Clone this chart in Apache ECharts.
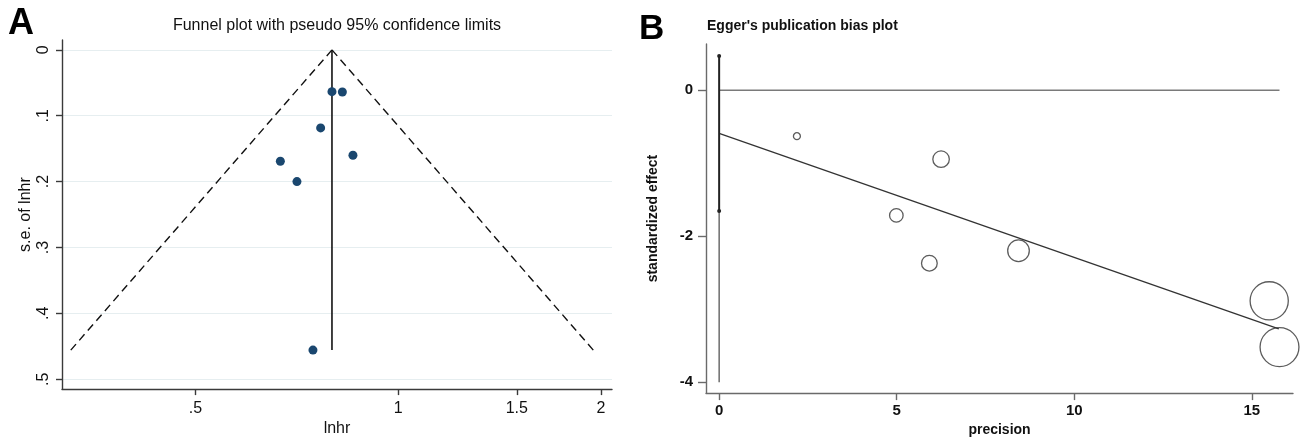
<!DOCTYPE html>
<html>
<head>
<meta charset="utf-8">
<script src="https://cdn.jsdelivr.net/npm/echarts@6/dist/echarts.min.js"></script>
<style>
  html, body { margin: 0; padding: 0; background: #fff; }
  #chart { width: 1301px; height: 442px; }
</style>
</head>
<body>
<div id="chart"></div>
<script>
// ---------- Panel A: funnel plot (x = lnhr, y = s.e. of lnhr) ----------
const studyLnhr = [-0.2262, -0.1907, -0.2649, -0.1545, -0.4026, -0.3459, -0.2912];
const studySE   = [0.0634, 0.0640, 0.1185, 0.1600, 0.1690, 0.2000, 0.4558];
const pooledLine = [[-0.2262, 0], [-0.2262, 0.4558]];
const funnelLeft  = [[-0.2262, 0], [-1.119, 0.4558]];
const funnelRight = [[-0.2262, 0], [0.667, 0.4558]];
const hrTickLabels = [0.5, 1, 1.5, 2];
const seTickValues = [0, 0.1, 0.2, 0.3, 0.4, 0.5];

// ---------- Panel B: Egger's plot (x = precision, y = standardized effect) ----------
const eggPrecision = [2.19, 4.99, 5.92, 6.25, 8.43, 15.49, 15.78];
const eggEffect    = [-0.63, -1.715, -2.37, -0.945, -2.20, -2.886, -3.52];
const eggRegLine   = [[0, -0.593], [15.76, -3.27]];
const eggZeroLine  = [[0, 0], [15.78, 0]];
const eggCI        = [[0, 0.47], [0, -1.656]];
const eggCIExt     = [[0, -1.656], [0, -4.0]];
const precTicks    = [0, 5, 10, 15];
const effTicks     = [0, -2, -4];

const fA = "'Liberation Sans', Arial, sans-serif";
const fB = "'Liberation Sans', Arial, sans-serif";

function stataNum(v) {
  let s = String(+v.toFixed(4));
  return s.replace(/^0\./, '.').replace(/^-0\./, '-.');
}

const chart = echarts.init(document.getElementById('chart'), null, { renderer: 'canvas' });

const axA = { color: '#3a3a3a', width: 1.4 };
const axB = { color: '#6a6a6a', width: 1.4 };

chart.setOption({
  animation: false,
  backgroundColor: '#fff',
  title: [
    { text: 'A', left: 8, top: 6, padding: 0,
      textStyle: { fontSize: 36, fontWeight: 'bold', fontFamily: fA, color: '#000' } },
    { text: 'Funnel plot with pseudo 95% confidence limits', left: 337, top: 18, padding: 0, textAlign: 'center',
      textStyle: { fontSize: 16, fontWeight: 'normal', fontFamily: fA, color: '#111' } },
    { text: 'B', left: 639, top: 12, padding: 0,
      textStyle: { fontSize: 35, fontWeight: 'bold', fontFamily: fA, color: '#000' } },
    { text: "Egger's publication bias plot", left: 707, top: 19, padding: 0,
      textStyle: { fontSize: 14, fontWeight: 'bold', fontFamily: fB, color: '#111' } }
  ],
  grid: [
    { left: 62, top: 40, width: 550, height: 353 },
    { left: 706, top: 44, width: 587, height: 359 }
  ],
  xAxis: [
    {
      gridIndex: 0, type: 'value',
      min: -1.149, max: 0.731,
      name: 'lnhr', nameLocation: 'middle', nameGap: 27,
      nameTextStyle: { fontSize: 16, fontFamily: fA, color: '#111' },
      axisLine: { show: true, onZero: false, lineStyle: axA },
      axisTick: { show: true, length: 6, lineStyle: axA, customValues: hrTickLabels.map(v => Math.log(v)) },
      axisLabel: { show: true, margin: 11, fontSize: 16, fontFamily: fA, color: '#111',
        customValues: hrTickLabels.map(v => Math.log(v)),
        formatter: function (v) {
          const t = hrTickLabels.find(h => Math.abs(Math.log(h) - v) < 1e-6);
          return t === undefined ? '' : stataNum(t);
        } },
      splitLine: { show: false }
    },
    {
      gridIndex: 1, type: 'value',
      min: -0.37, max: 16.16,
      name: 'precision', nameLocation: 'middle', nameGap: 24,
      nameTextStyle: { fontSize: 14, fontWeight: 'bold', fontFamily: fB, color: '#111' },
      axisLine: { show: true, onZero: false, lineStyle: axB },
      axisTick: { show: true, length: 7, lineStyle: axB, customValues: precTicks },
      axisLabel: { show: true, margin: 10, fontSize: 15, fontWeight: 'bold', fontFamily: fB, color: '#111',
        customValues: precTicks, formatter: v => stataNum(v) },
      splitLine: { show: false }
    }
  ],
  yAxis: [
    {
      gridIndex: 0, type: 'value', inverse: true,
      min: -0.015, max: 0.515,
      name: 's.e. of lnhr', nameLocation: 'middle', nameGap: 28, nameRotate: 90,
      nameTextStyle: { fontSize: 16, fontFamily: fA, color: '#111' },
      axisLine: { show: true, onZero: false, lineStyle: axA },
      axisTick: { show: true, length: 6, lineStyle: axA, customValues: seTickValues },
      axisLabel: { show: true, margin: 10, rotate: 90, fontSize: 16, fontFamily: fA, color: '#111',
        customValues: seTickValues, formatter: v => stataNum(v) },
      splitLine: { show: true, lineStyle: { color: '#e6eef0', width: 1 } }
    },
    {
      gridIndex: 1, type: 'value',
      min: -4.15, max: 0.633,
      name: 'standardized effect', nameLocation: 'middle', nameGap: 46, nameRotate: 90,
      nameTextStyle: { fontSize: 14, fontWeight: 'bold', fontFamily: fB, color: '#111' },
      axisLine: { show: true, onZero: false, lineStyle: axB },
      axisTick: { show: true, length: 8, lineStyle: axB, customValues: effTicks },
      axisLabel: { show: true, margin: 13, fontSize: 15, fontWeight: 'bold', fontFamily: fB, color: '#111',
        customValues: effTicks, formatter: v => stataNum(v) },
      splitLine: { show: false }
    }
  ],
  series: [
    // Panel A
    { type: 'line', xAxisIndex: 0, yAxisIndex: 0, data: funnelLeft, symbol: 'none',
      lineStyle: { color: '#111', width: 1.4, type: [8, 5] }, z: 3 },
    { type: 'line', xAxisIndex: 0, yAxisIndex: 0, data: funnelRight, symbol: 'none',
      lineStyle: { color: '#111', width: 1.4, type: [8, 5] }, z: 3 },
    { type: 'line', xAxisIndex: 0, yAxisIndex: 0, data: pooledLine, symbol: 'none',
      lineStyle: { color: '#111', width: 1.6 }, z: 3 },
    { type: 'scatter', xAxisIndex: 0, yAxisIndex: 0,
      data: studyLnhr.map((x, i) => [x, studySE[i]]),
      symbol: 'circle', symbolSize: 9,
      itemStyle: { color: '#1a476f', opacity: 1 }, z: 5 },
    // Panel B
    { type: 'line', xAxisIndex: 1, yAxisIndex: 1, data: eggZeroLine, symbol: 'none',
      lineStyle: { color: '#7a7a7a', width: 1.5 }, z: 2 },
    { type: 'line', xAxisIndex: 1, yAxisIndex: 1, data: eggCIExt, symbol: 'none',
      lineStyle: { color: '#555', width: 1.3 }, z: 3 },
    { type: 'line', xAxisIndex: 1, yAxisIndex: 1, data: eggCI, symbol: 'circle', symbolSize: 4, showSymbol: true,
      itemStyle: { color: '#222' },
      lineStyle: { color: '#222', width: 2 }, z: 4 },
    { type: 'line', xAxisIndex: 1, yAxisIndex: 1, data: eggRegLine, symbol: 'none',
      lineStyle: { color: '#333', width: 1.3 }, z: 3 },
    { type: 'scatter', xAxisIndex: 1, yAxisIndex: 1,
      data: eggPrecision.map((x, i) => [x, eggEffect[i]]),
      symbol: 'circle',
      symbolSize: d => 2.35 * d[0] + 1.8,
      itemStyle: { color: 'rgba(0,0,0,0)', borderColor: '#333', borderWidth: 1.3 }, z: 5 }
  ]
});
</script>
</body>
</html>
